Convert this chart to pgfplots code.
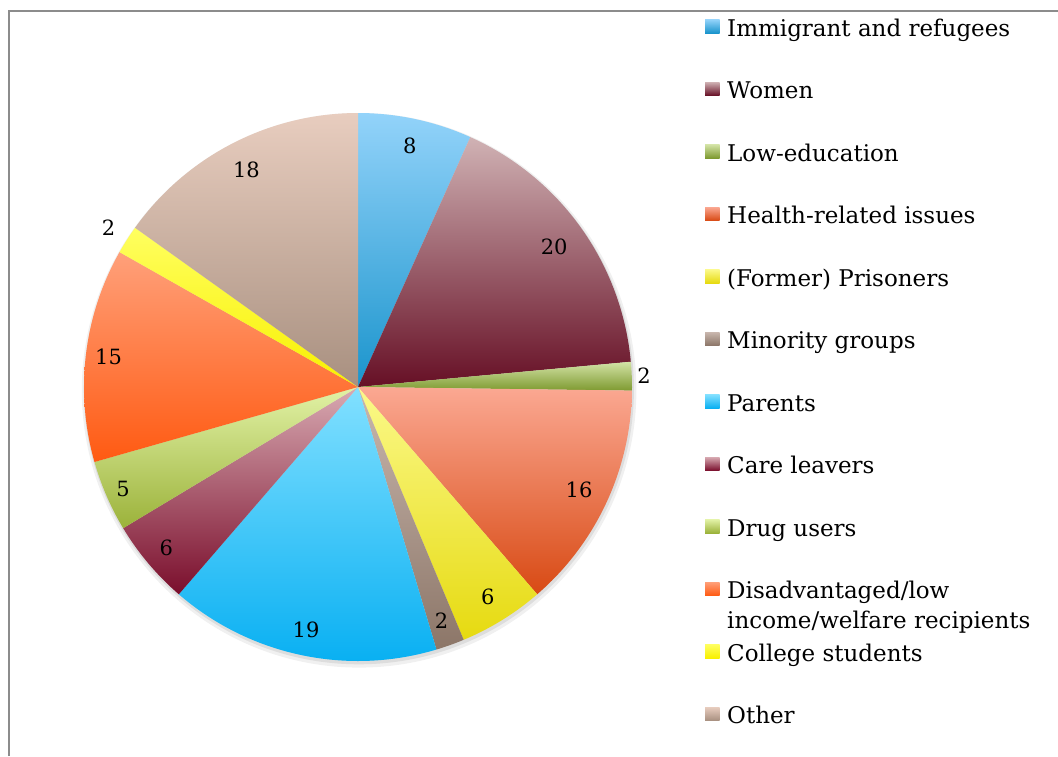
\documentclass[border=0pt]{standalone}
\usepackage{pgfplots}
\pgfplotsset{compat=1.18}
\usepackage{pgfplotstable}
\usepackage{fontspec}
\setmainfont{DejaVu Serif}

\definecolor{ct0}{HTML}{93D3FA}\definecolor{cb0}{HTML}{1A94CC}
\definecolor{ct1}{HTML}{D0B2B4}\definecolor{cb1}{HTML}{660F25}
\definecolor{ct2}{HTML}{D3E3A6}\definecolor{cb2}{HTML}{7E9A30}
\definecolor{ct3}{HTML}{FBA892}\definecolor{cb3}{HTML}{D84A14}
\definecolor{ct4}{HTML}{FBF98A}\definecolor{cb4}{HTML}{E6DA10}
\definecolor{ct5}{HTML}{C9B7AE}\definecolor{cb5}{HTML}{8C7668}
\definecolor{ct6}{HTML}{82E0FF}\definecolor{cb6}{HTML}{09B0F2}
\definecolor{ct7}{HTML}{D8AAB2}\definecolor{cb7}{HTML}{7A0E2C}
\definecolor{ct8}{HTML}{E2F2A6}\definecolor{cb8}{HTML}{9BB23A}
\definecolor{ct9}{HTML}{FFA07A}\definecolor{cb9}{HTML}{FF5A12}
\definecolor{ct10}{HTML}{FFFF60}\definecolor{cb10}{HTML}{F8F000}
\definecolor{ct11}{HTML}{E8CDBF}\definecolor{cb11}{HTML}{A89080}

% value = slice value, lr = label distance from centre (in radii)
\pgfplotstableread{
idx value lr
0 8 0.90
1 20 0.88
2 2 1.045
3 16 0.89
4 6 0.90
5 2 0.905
6 19 0.905
7 6 0.914
8 5 0.935
9 15 0.917
10 2 1.08
11 18 0.89
}\piedata

\gdef\cumsum{0}
\foreach \i in {0,...,11}{%
  \pgfplotstablegetelem{\i}{value}\of\piedata
  \pgfmathsetmacro\tmp{\cumsum+\pgfplotsretval}%
  \xdef\cumsum{\tmp}%
}
\xdef\pietotal{\cumsum}
\gdef\cumsum{0}
\foreach \i in {0,...,11}{%
  \pgfplotstablegetelem{\i}{lr}\of\piedata
  \let\lr\pgfplotsretval
  \pgfplotstablegetelem{\i}{value}\of\piedata
  \let\val\pgfplotsretval
  \pgfmathsetmacro\astart{90-(\cumsum/\pietotal)*360}%
  \pgfmathsetmacro\tmp{\cumsum+\val}%
  \pgfmathsetmacro\aend{90-(\tmp/\pietotal)*360}%
  \pgfmathsetmacro\amid{(\astart+\aend)/2}%
  \pgfmathsetmacro\lx{\lr*cos(\amid)}%
  \pgfmathsetmacro\ly{\lr*sin(\amid)}%
  \expandafter\xdef\csname pieS\i\endcsname{\astart}%
  \expandafter\xdef\csname pieE\i\endcsname{\aend}%
  \expandafter\xdef\csname pieX\i\endcsname{\lx}%
  \expandafter\xdef\csname pieY\i\endcsname{\ly}%
  \pgfmathtruncatemacro\vv{\val}%
  \expandafter\xdef\csname pieV\i\endcsname{\vv}%
  \xdef\cumsum{\tmp}%
}

\begin{document}
\begin{tikzpicture}[x=1pt,y=1pt]
\useasboundingbox (0,0) rectangle (1058,-756);
\fill[white] (0,0) rectangle (1058,-756);
\draw[color=black!45, line width=1.6pt] (9,-756) -- (9,-11) -- (1058,-11);

\begin{axis}[
  hide axis, clip=false,
  x=274pt, y=274pt,
  xmin=-1, xmax=1, ymin=-1, ymax=1,
  enlargelimits=false,
  scale only axis,
  at={(358pt,-387pt)}, anchor=center,
]
\fill[black, opacity=0.06] (axis cs:0.004,-0.012) circle[radius=1.012];
\fill[black, opacity=0.08] (axis cs:0.003,-0.008) circle[radius=1.004];
\pgfplotsinvokeforeach{0,...,11}{
  \addplot[draw=none, top color=ct#1, bottom color=cb#1,
    domain=\csname pieE#1\endcsname:\csname pieS#1\endcsname,
    samples=70, variable=\t] ({cos(\t)},{sin(\t)}) -- (axis cs:0,0) -- cycle;
}
\pgfplotsinvokeforeach{0,...,11}{
  \node[font=\fontsize{21}{25}\selectfont, inner sep=0pt]
    at (axis cs:\csname pieX#1\endcsname,\csname pieY#1\endcsname)
    {\csname pieV#1\endcsname};
}
\end{axis}

% legend
\foreach \k/\txt in {0/Immigrant and refugees,1/Women,2/Low-education,3/Health-related issues,4/(Former) Prisoners,5/Minority groups,6/Parents,7/Care leavers,8/Drug users,9/Disadvantaged\slash low,10/College students,11/Other}{
  \pgfmathsetmacro\by{-(36+62.5*\k)}
  \shade[top color=ct\k, bottom color=cb\k] (705,\by+3) rectangle (719.5,\by+16.5);
  \node[anchor=base west, inner sep=0pt, font=\fontsize{23}{27}\selectfont] at (727,\by) {\txt};
}
\pgfmathsetmacro\by{-(36+62.5*9+30)}
\node[anchor=base west, inner sep=0pt, font=\fontsize{23}{27}\selectfont] at (727,\by) {income/welfare recipients};
\end{tikzpicture}
\end{document}
